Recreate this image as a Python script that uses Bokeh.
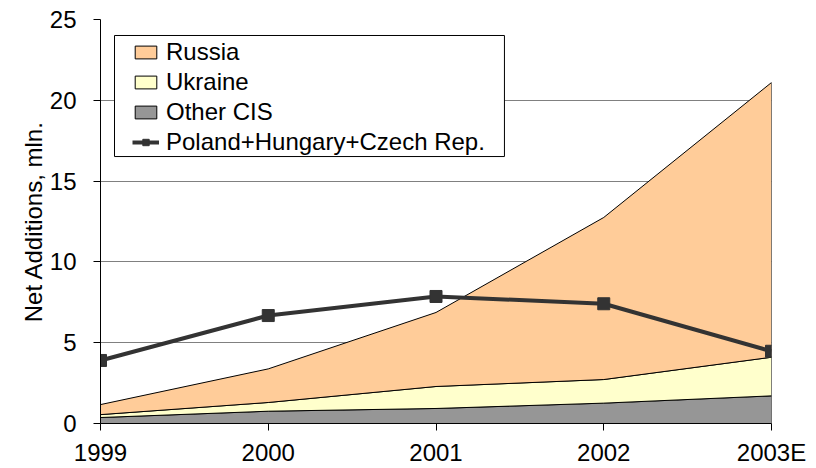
from bokeh.plotting import figure
from bokeh.models import FixedTicker, Legend, LegendItem, BoxAnnotation
from bokeh.embed import file_html
from bokeh.resources import INLINE

years = [1999, 2000, 2001, 2002, 2003]
year_labels = ["1999", "2000", "2001", "2002", "2003E"]
other_cis = [0.37, 0.76, 0.93, 1.26, 1.71]
ukraine = [0.18, 0.54, 1.36, 1.46, 2.39]
russia = [0.62, 2.08, 4.58, 10.03, 17.0]
pl_hu_cz = [3.9, 6.68, 7.86, 7.41, 4.47]
y_ticks = [0, 5, 10, 15, 20, 25]

FONT = "Liberation Sans"
FS = "24px"

p = figure(width=816, height=468, output_backend="svg", toolbar_location=None,
           x_range=(1999, 2003), y_range=(0, 25),
           min_border_left=100, min_border_right=45, min_border_top=19, min_border_bottom=45)
p.outline_line_color = None
p.background_fill_color = "white"
p.border_fill_color = "white"

# stacked bands
b0 = [0.0] * len(years)
t1 = [a + b for a, b in zip(b0, other_cis)]
t2 = [a + b for a, b in zip(t1, ukraine)]
t3 = [a + b for a, b in zip(t2, russia)]

def band(bottom, top, color):
    xs = years + years[::-1]
    ys = top + bottom[::-1]
    return p.patch(xs, ys, fill_color=color, line_color="black", line_width=1)

r_other = band(b0, t1, "#969696")
r_ukr = band(t1, t2, "#FFFFCC")
r_rus = band(t2, t3, "#FFCC99")

r_line = p.line(years, pl_hu_cz, line_color="#333333", line_width=4)
r_mark = p.scatter(years, pl_hu_cz, marker="square", size=12, fill_color="#333333", line_color="#333333")

# axes
p.xaxis.ticker = FixedTicker(ticks=years)
p.xaxis.major_label_overrides = {y: l for y, l in zip(years, year_labels)}
p.yaxis.ticker = FixedTicker(ticks=y_ticks)
for ax in (p.xaxis[0], p.yaxis[0]):
    ax.axis_line_color = "black"
    ax.axis_line_width = 1
    ax.major_tick_line_color = "black"
    ax.major_tick_in = 0
    ax.major_tick_out = 7
    ax.minor_tick_line_color = None
    ax.major_label_text_font = FONT
    ax.major_label_text_font_size = FS
    ax.major_label_text_color = "black"
p.xaxis.major_label_standoff = 8
p.yaxis.major_label_standoff = 17
p.yaxis.axis_label = "Net Additions, mln."
p.yaxis.axis_label_text_font = FONT
p.yaxis.axis_label_text_font_size = FS
p.yaxis.axis_label_text_font_style = "normal"
p.yaxis.axis_label_text_color = "black"
p.yaxis.axis_label_standoff = 0

p.xgrid.grid_line_color = None
p.ygrid.ticker = FixedTicker(ticks=[5, 10, 15, 20])
p.ygrid.grid_line_color = "#808080"
p.ygrid.grid_line_width = 1

# legend frame (white box with black border)
frame_box = BoxAnnotation(left=1999.0835, right=2001.408, top=24.01, bottom=16.52,
                          fill_color="white", fill_alpha=1.0,
                          line_color="black", line_width=1, line_alpha=1.0)
p.add_layout(frame_box)

legend = Legend(items=[
    LegendItem(label="Russia", renderers=[r_rus]),
    LegendItem(label="Ukraine", renderers=[r_ukr]),
    LegendItem(label="Other CIS", renderers=[r_other]),
    LegendItem(label="Poland+Hungary+Czech Rep.", renderers=[r_line, r_mark]),
], location=(32, 266))
legend.label_text_font = FONT
legend.label_text_font_size = FS
legend.label_text_color = "black"
legend.label_text_line_height = 1.0
legend.border_line_color = None
legend.background_fill_alpha = 0
legend.padding = 0
legend.spacing = 0
legend.label_height = 30
legend.glyph_width = 27
legend.glyph_height = 16
legend.label_standoff = 7
legend.margin = 0
p.add_layout(legend, "center")

open("out.html", "w").write(file_html(p, INLINE))
